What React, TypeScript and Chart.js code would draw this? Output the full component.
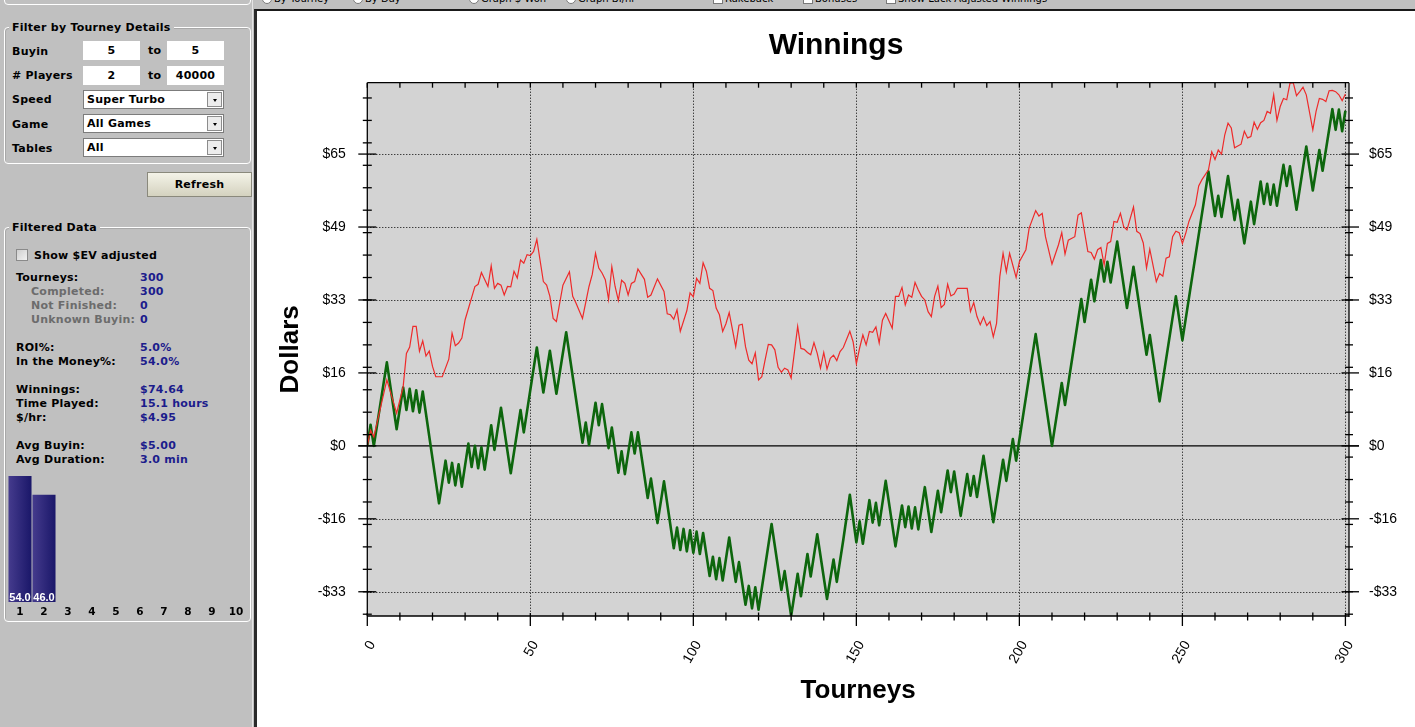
import React, { useEffect, useRef } from "react";
import { Chart, registerables } from "chart.js";

Chart.register(...registerables);

const SANS = "'Liberation Sans', Arial, Helvetica, sans-serif";
const UI = "'DejaVu Sans', Verdana, sans-serif";

// ---- main chart data: [tourney, dollars] at the vertices ----
const actualWinnings: [number, number][] = [
  [0, 0], [1, 4.7], [2, 0], [6, 18.6], [9, 3.7], [11, 13.0], [12, 8.0], [13, 12.7], [14, 7.7], [15, 12.4],
  [16, 7.4], [17, 12.1], [22, -12.8], [24, -3.3], [25, -8.2], [26, -3.8], [27, -8.8], [28, -4.1], [29, -9.1], [31, 0.5],
  [32, -4.7], [33, 0.0], [34, -5.0], [35, -0.3], [36, -5.3], [38, 4.6], [39, -0.9], [41, 8.5], [44, -6.1], [47, 8.0],
  [48, 3.0], [52, 21.9], [54, 11.9], [56, 21.2], [58, 11.6], [61, 25.3], [66, 0.7], [67, 5.2], [68, 0.2], [70, 9.6],
  [71, 4.6], [72, 9.3], [74, -0.5], [75, 4.1], [77, -6.0], [78, -1.2], [79, -6.3], [81, 3.0], [82, -1.7], [83, 3.0],
  [86, -11.6], [87, -7.3], [89, -17.2], [91, -7.9], [94, -22.8], [95, -18.2], [96, -23.2], [97, -18.5], [98, -23.5], [99, -18.8],
  [100, -23.8], [101, -19.1], [102, -24.1], [103, -19.4], [105, -29.0], [106, -24.7], [107, -29.7], [108, -25.0], [109, -30.0], [111, -20.4],
  [113, -30.3], [114, -25.9], [116, -35.4], [117, -31.2], [118, -36.2], [119, -31.5], [120, -36.5], [124, -17.4], [127, -32.1], [128, -27.9],
  [130, -37.9], [132, -28.5], [133, -33.5], [135, -24.1], [136, -29.1], [138, -19.7], [141, -34.1], [143, -25.3], [144, -30.3], [146, -20.9],
  [148, -10.9], [150, -21.5], [151, -16.8], [152, -21.8], [154, -12.1], [155, -17.1], [156, -12.7], [157, -17.7], [159, -7.8], [162, -22.4],
  [164, -13.3], [165, -18.1], [166, -13.5], [167, -18.4], [168, -13.7], [169, -18.6], [171, -9.2], [173, -19.2], [175, -10.0], [176, -14.8],
  [178, -5.5], [179, -10.3], [180, -5.7], [182, -15.6], [184, -6.3], [185, -11.1], [186, -6.7], [187, -11.4], [189, -2.2], [192, -17.0],
  [195, -3.1], [196, -7.8], [198, 1.5], [199, -3.3], [205, 24.9], [210, 0], [213, 14.0], [214, 9.1], [219, 32.7], [220, 27.6],
  [222, 37.0], [223, 32.2], [225, 41.4], [226, 36.6], [227, 41.0], [228, 36.4], [230, 45.5], [233, 30.7], [235, 39.9], [239, 20.3],
  [240, 24.7], [243, 9.9], [248, 33.3], [250, 23.5], [258, 61.1], [260, 51.2], [261, 55.7], [262, 51.0], [264, 60.1], [266, 50.3],
  [267, 54.8], [269, 45.1], [271, 54.4], [272, 49.4], [274, 58.9], [275, 53.9], [276, 58.4], [277, 53.7], [278, 58.2], [279, 53.5],
  [281, 62.6], [282, 57.9], [283, 62.3], [285, 52.6], [288, 66.7], [290, 56.9], [292, 65.9], [293, 61.3], [296, 75.0], [297, 70.4],
  [298, 74.9], [299, 70.1], [300, 74.64],
];

const luckAdjusted: [number, number][] = [
  [0, 0], [1, 3.5], [2, 2.0], [6, 14.7], [9, 7.3], [11, 13.2], [12, 20.6], [13, 22.0], [14, 26.6], [15, 26.6],
  [16, 21.1], [17, 23.4], [18, 20.0], [19, 21.1], [20, 17.7], [21, 15.4], [23, 15.4], [25, 19.3], [26, 25.1], [27, 22.3],
  [28, 22.9], [29, 24.0], [30, 28.1], [33, 35.5], [34, 36.0], [35, 38.6], [37, 35.5], [38, 40.1], [39, 35.1], [40, 36.2],
  [41, 35.8], [42, 33.6], [43, 35.5], [44, 35.4], [45, 38.9], [46, 37.4], [47, 41.4], [48, 40.7], [49, 42.6], [50, 42.4],
  [51, 43.3], [52, 46.0], [54, 36.6], [55, 35.8], [56, 33.3], [57, 28.4], [58, 27.7], [60, 35.8], [62, 38.8], [63, 33.3],
  [64, 31.8], [66, 28.4], [68, 35.5], [69, 38.2], [70, 42.9], [71, 39.6], [72, 38.5], [73, 37.0], [74, 32.6], [75, 39.9],
  [76, 35.5], [77, 32.4], [78, 36.9], [79, 36.2], [80, 33.6], [81, 36.2], [82, 36.6], [83, 39.4], [85, 37.1], [86, 33.1],
  [87, 33.6], [89, 37.2], [91, 34.4], [92, 29.4], [93, 29.2], [94, 28.2], [95, 30.3], [96, 25.5], [98, 30.1], [99, 34.1],
  [100, 33.2], [101, 37.3], [102, 36.2], [103, 40.8], [104, 38.9], [105, 35.1], [106, 34.6], [107, 30.7], [108, 29.2], [109, 25.5],
  [110, 27.2], [111, 29.7], [113, 22.1], [114, 26.9], [115, 27.1], [116, 22.1], [117, 19.1], [118, 18.3], [119, 20.7], [120, 14.7],
  [121, 15.4], [122, 19.1], [123, 22.6], [124, 22.5], [125, 21.4], [126, 17.5], [127, 16.4], [128, 17.3], [129, 16.9], [130, 15.1],
  [132, 26.6], [133, 21.7], [134, 21.5], [135, 20.8], [136, 20.3], [137, 23.0], [138, 20.6], [139, 17.3], [140, 20.8], [141, 17.1],
  [142, 19.5], [143, 20.2], [144, 19.0], [145, 21.0], [146, 21.9], [148, 25.5], [149, 23.2], [150, 18.3], [151, 21.8], [152, 24.7],
  [153, 22.5], [154, 25.5], [155, 25.3], [156, 26.5], [157, 22.9], [158, 28.0], [159, 29.5], [161, 26.2], [162, 33.3], [163, 33.3],
  [164, 35.3], [165, 31.4], [166, 33.6], [167, 33.1], [168, 36.4], [169, 34.7], [170, 33.3], [171, 32.5], [172, 29.9], [173, 28.8],
  [174, 33.3], [175, 35.6], [176, 30.8], [177, 31.5], [178, 36.0], [179, 33.4], [180, 33.8], [181, 35.1], [184, 35.1], [185, 29.9],
  [186, 31.9], [187, 28.8], [188, 27.0], [189, 28.7], [190, 26.8], [191, 27.7], [192, 24.3], [193, 27.3], [194, 37.7], [195, 42.9],
  [196, 38.8], [197, 42.9], [199, 37.5], [200, 41.0], [202, 43.7], [203, 48.5], [205, 52.4], [206, 51.2], [207, 51.8], [208, 46.6],
  [210, 40.5], [212, 44.8], [213, 47.5], [214, 42.7], [215, 45.8], [217, 46.6], [218, 51.4], [219, 51.9], [221, 43.3], [222, 43.1],
  [223, 41.6], [224, 43.7], [225, 44.2], [226, 40.3], [227, 45.1], [228, 45.5], [229, 50.0], [230, 49.8], [231, 51.8], [232, 48.8],
  [233, 48.1], [235, 53.2], [236, 47.8], [237, 47.3], [238, 45.2], [239, 39.6], [240, 43.8], [242, 36.6], [243, 38.4], [244, 37.8],
  [245, 41.8], [246, 42.1], [247, 46.6], [248, 47.8], [249, 47.5], [250, 45.1], [251, 47.3], [252, 50.0], [254, 53.7], [255, 57.9],
  [256, 59.3], [258, 61.5], [259, 65.5], [260, 63.8], [261, 65.9], [262, 65.0], [263, 69.3], [264, 71.9], [265, 70.8], [266, 66.4],
  [268, 67.2], [269, 70.1], [270, 68.6], [271, 68.9], [272, 72.1], [273, 70.5], [274, 72.0], [275, 72.5], [276, 74.5], [277, 74.1],
  [278, 78.2], [279, 72.5], [280, 75.6], [281, 77.4], [282, 77.1], [283, 80.8], [284, 80.9], [285, 78.0], [286, 78.9], [287, 79.9],
  [288, 78.2], [290, 70.4], [291, 74.5], [292, 77.4], [293, 77.2], [294, 76.7], [295, 79.1], [296, 79.2], [297, 78.9], [298, 78.2],
  [299, 76.9], [300, 78.4],
];

const xTickValues = [0, 50, 100, 150, 200, 250, 300];
const xMinorTicks = [10, 20, 30, 40, 60, 70, 80, 90, 110, 120, 130, 140, 160, 170, 180, 190, 210, 220, 230, 240, 260, 270, 280, 290];
const yTickValues = [-32.5, -16.25, 0, 16.25, 32.5, 48.75, 65];
const yTickLabels = ["-$33", "-$16", "$0", "$16", "$33", "$49", "$65"];
const yMinorTicks = [-37.5, -32.5, -27.5, -22.5, -17.5, -12.5, -7.5, -2.5, 2.5, 7.5, 12.5, 17.5, 22.5, 27.5, 32.5, 37.5, 42.5, 47.5, 52.5, 57.5, 62.5, 67.5, 72.5, 77.5];
const X_MIN = 0;
const X_MAX = 301.1;
const Y_MIN = -37.9;
const Y_MAX = 80.9;

// ---- finishing position histogram ----
const placeLabels = ["1", "2", "3", "4", "5", "6", "7", "8", "9", "10"];
const placePercent = [54.0, 46.0, 0, 0, 0, 0, 0, 0, 0, 0];

const framePlugin = {
  id: "frame",
  beforeDraw(chart: any) {
    const { ctx, chartArea: a } = chart;
    ctx.save();
    ctx.fillStyle = "#ffffff";
    ctx.fillRect(0, 0, chart.width, chart.height);
    ctx.fillStyle = "#d3d3d3";
    ctx.fillRect(a.left, a.top, a.right - a.left, a.bottom - a.top);
    ctx.restore();
  },
  beforeDatasetsDraw(chart: any) {
    const { ctx, chartArea: a, scales } = chart;
    const xs = scales.x;
    const ys = scales.y;
    ctx.save();
    ctx.strokeStyle = "#000";
    ctx.lineWidth = 1;
    ctx.setLineDash([1, 2]);
    for (const v of yTickValues) {
      if (v === 0) continue;
      const y = Math.round(ys.getPixelForValue(v)) + 0.5;
      ctx.beginPath();
      ctx.moveTo(a.left, y);
      ctx.lineTo(a.right, y);
      ctx.stroke();
    }
    for (const v of xTickValues) {
      if (v === 0) continue;
      const x = Math.round(xs.getPixelForValue(v)) + 0.5;
      ctx.beginPath();
      ctx.moveTo(x, a.top);
      ctx.lineTo(x, a.bottom);
      ctx.stroke();
    }
    ctx.setLineDash([]);
    const y0 = ys.getPixelForValue(0);
    ctx.lineWidth = 1.4;
    ctx.beginPath();
    ctx.moveTo(a.left - 9, y0);
    ctx.lineTo(a.right + 10, y0);
    ctx.stroke();
    ctx.restore();
  },
  afterDatasetsDraw(chart: any) {
    const { ctx, chartArea: a, scales } = chart;
    const xs = scales.x;
    const ys = scales.y;
    ctx.save();
    ctx.strokeStyle = "#000";
    ctx.lineWidth = 1.3;
    ctx.setLineDash([]);
    const line = (x1: number, y1: number, x2: number, y2: number) => {
      ctx.beginPath();
      ctx.moveTo(x1, y1);
      ctx.lineTo(x2, y2);
      ctx.stroke();
    };
    line(a.left, a.top, a.right, a.top);
    line(a.left, a.bottom, a.right, a.bottom);
    line(a.left, a.top, a.left, a.bottom);
    line(a.right, a.top, a.right, a.bottom + 1);
    for (const v of yMinorTicks) {
      const y = ys.getPixelForValue(v);
      line(a.left - 4.5, y, a.left + 4.5, y);
      line(a.right - 4, y, a.right + 4, y);
    }
    for (const v of yTickValues) {
      const y = ys.getPixelForValue(v);
      line(a.left - 9, y, a.left + 9, y);
      line(a.right - 7.5, y, a.right + 10, y);
    }
    for (const v of xMinorTicks) {
      const x = xs.getPixelForValue(v);
      line(x, a.bottom - 3.5, x, a.bottom + 4.5);
      line(x, a.top, x, a.top + 5);
    }
    for (const v of xTickValues) {
      const x = xs.getPixelForValue(v);
      line(x, a.bottom - 3, x, a.bottom + 10);
      line(x, a.top, x, a.top + 5);
    }
    ctx.restore();
  },
};

function WinningsChart() {
  const ref = useRef<HTMLCanvasElement>(null);
  useEffect(() => {
    const tickFont = { size: 14, family: SANS };
    const titleFont = { size: 26, weight: "bold" as const, family: SANS };
    const yTicks = (s: any) => {
      s.ticks = yTickValues.map((v) => ({ value: v }));
    };
    const chart = new Chart(ref.current as HTMLCanvasElement, {
      type: "line",
      data: {
        datasets: [
          {
            label: "Luck Adjusted Winnings",
            data: luckAdjusted.map(([x, y]) => ({ x, y })),
            borderColor: "#ee2a2a",
            borderWidth: 1.2,
            pointRadius: 0,
            tension: 0,
            xAxisID: "x",
            yAxisID: "y",
          },
          {
            label: "Winnings",
            data: actualWinnings.map(([x, y]) => ({ x, y })),
            borderColor: "#0d660d",
            borderWidth: 2.6,
            borderJoinStyle: "round",
            pointRadius: 0,
            tension: 0,
            xAxisID: "x",
            yAxisID: "y",
          },
        ],
      } as any,
      options: {
        responsive: false,
        animation: false,
        events: [],
        layout: { padding: 0 },
        plugins: {
          legend: { display: false },
          tooltip: { enabled: false },
          title: {
            display: true,
            text: "Winnings",
            color: "#000",
            font: { size: 30, weight: "bold", family: SANS },
            padding: { top: 17, bottom: 18.7 },
          },
        },
        scales: {
          x: {
            type: "linear",
            position: "bottom",
            min: X_MIN,
            max: X_MAX,
            grid: { display: false, drawTicks: false },
            border: { display: false },
            afterBuildTicks: (s: any) => {
              s.ticks = xTickValues.map((v) => ({ value: v }));
            },
            ticks: {
              autoSkip: false,
              minRotation: 60,
              maxRotation: 60,
              padding: 22,
              labelOffset: 5,
              color: "#000",
              font: tickFont,
              callback: (v: any) => String(v),
            },
            title: { display: true, text: "Tourneys", color: "#000", font: titleFont, padding: { top: 0, bottom: 21 } },
            afterFit: (s: any) => {
              s.height = 111;
            },
          },
          y: {
            type: "linear",
            position: "left",
            min: Y_MIN,
            max: Y_MAX,
            grid: { display: false, drawTicks: false },
            border: { display: false },
            afterBuildTicks: yTicks,
            ticks: { padding: 21.5, color: "#000", font: tickFont, callback: (_v: any, i: number) => yTickLabels[i] },
            title: { display: true, text: "Dollars", color: "#000", font: titleFont, padding: { top: 18.4, bottom: 0 } },
            afterFit: (s: any) => {
              s.width = 110.3;
            },
          },
          y2: {
            type: "linear",
            position: "right",
            min: Y_MIN,
            max: Y_MAX,
            grid: { display: false, drawTicks: false },
            border: { display: false },
            afterBuildTicks: yTicks,
            ticks: { padding: 20, color: "#000", font: tickFont, callback: (_v: any, i: number) => yTickLabels[i] },
            afterFit: (s: any) => {
              s.width = 66;
            },
          },
        },
      } as any,
      plugins: [framePlugin],
    });
    return () => chart.destroy();
  }, []);
  return (
    <canvas
      ref={ref}
      width={1158}
      height={716}
      style={{ position: "absolute", left: 257, top: 11, width: 1158, height: 716, display: "block" }}
    />
  );
}

const barValuePlugin = {
  id: "barValues",
  afterDatasetsDraw(chart: any) {
    const { ctx, chartArea } = chart;
    const meta = chart.getDatasetMeta(0);
    ctx.save();
    ctx.font = `bold 11px ${SANS}`;
    ctx.fillStyle = "#ffffff";
    ctx.textAlign = "center";
    ctx.textBaseline = "alphabetic";
    meta.data.forEach((bar: any, i: number) => {
      if (placePercent[i] > 0) ctx.fillText(placePercent[i].toFixed(1), bar.x, chartArea.bottom - 1);
    });
    ctx.restore();
  },
};

function PlaceChart() {
  const ref = useRef<HTMLCanvasElement>(null);
  useEffect(() => {
    const chart = new Chart(ref.current as HTMLCanvasElement, {
      type: "bar",
      data: {
        labels: placeLabels,
        datasets: [
          {
            data: placePercent,
            borderWidth: 0,
            barPercentage: 1,
            categoryPercentage: 0.96,
            backgroundColor: (c: any) => {
              const ch = c.chart;
              const xs = ch.scales && ch.scales.x;
              const cx = xs && c.dataIndex !== undefined ? xs.getPixelForValue(c.dataIndex) : NaN;
              if (!Number.isFinite(cx)) return "#2a2478";
              const g = ch.ctx.createLinearGradient(cx - 12, 0, cx + 12, 0);
              g.addColorStop(0, "#463c8e");
              g.addColorStop(1, "#191668");
              return g;
            },
          },
        ],
      } as any,
      options: {
        responsive: false,
        animation: false,
        events: [],
        layout: { padding: 0 },
        plugins: { legend: { display: false }, tooltip: { enabled: false } },
        scales: {
          x: {
            grid: { display: false, drawTicks: false },
            border: { display: false },
            ticks: { padding: 4, color: "#000", font: { size: 10.5, weight: "bold", family: UI } },
            afterFit: (s: any) => {
              s.height = 18;
            },
          },
          y: { display: false, min: 0, max: 56.57 },
        },
      } as any,
      plugins: [barValuePlugin],
    });
    return () => chart.destroy();
  }, []);
  return (
    <canvas
      ref={ref}
      width={240}
      height={150}
      style={{ position: "absolute", left: 8, top: 470, width: 240, height: 150, display: "block" }}
    />
  );
}

const abs = (s: React.CSSProperties): React.CSSProperties => ({ position: "absolute", whiteSpace: "nowrap", ...s });
const bold = `bold 11px ${UI}`;
const LS = "0.25px";

function Label({ x, y, children, color = "#000" }: { x: number; y: number; children: React.ReactNode; color?: string }) {
  return <div style={abs({ left: x, top: y - 6, font: bold, letterSpacing: LS, lineHeight: "14px", color })}>{children}</div>;
}

function Input({ x, y, w, children }: { x: number; y: number; w: number; children: React.ReactNode }) {
  return (
    <div
      style={abs({
        left: x,
        top: y,
        width: w,
        height: 19,
        background: "#fff",
        font: bold,
        letterSpacing: LS,
        lineHeight: "20px",
        textAlign: "center",
      })}
    >
      {children}
    </div>
  );
}

function Select({ y, children }: { y: number; children: React.ReactNode }) {
  return (
    <div
      style={abs({
        left: 83,
        top: y,
        width: 141,
        height: 19,
        background: "#fff",
        border: "1px solid #7c7c7c",
        boxSizing: "border-box",
        font: bold,
        letterSpacing: LS,
        lineHeight: "17px",
        paddingLeft: 3,
      })}
    >
      {children}
      <div
        style={abs({
          right: 1,
          top: 1,
          width: 15,
          height: 15,
          background: "#ececec",
          border: "1px solid #8c8c8c",
          boxSizing: "border-box",
        })}
      >
        <div
          style={abs({
            left: 4.5,
            top: 5.5,
            width: 0,
            height: 0,
            borderLeft: "2.5px solid transparent",
            borderRight: "2.5px solid transparent",
            borderTop: "3px solid #000",
          })}
        />
      </div>
    </div>
  );
}

const statRows: { label: string; value: string; y: number; sub?: boolean }[] = [
  { label: "Tourneys:", value: "300", y: 277 },
  { label: "Completed:", value: "300", y: 291, sub: true },
  { label: "Not Finished:", value: "0", y: 305, sub: true },
  { label: "Unknown Buyin:", value: "0", y: 319, sub: true },
  { label: "ROI%:", value: "5.0%", y: 347 },
  { label: "In the Money%:", value: "54.0%", y: 361 },
  { label: "Winnings:", value: "$74.64", y: 389 },
  { label: "Time Played:", value: "15.1 hours", y: 403 },
  { label: "$/hr:", value: "$4.95", y: 417 },
  { label: "Avg Buyin:", value: "$5.00", y: 445 },
  { label: "Avg Duration:", value: "3.0 min", y: 459 },
];

const topItems: { kind: "radio" | "check"; checked?: boolean; x: number; text: string }[] = [
  { kind: "radio", x: 262, text: "By Tourney" },
  { kind: "radio", x: 353, text: "By Day" },
  { kind: "radio", x: 469, text: "Graph $ Won" },
  { kind: "radio", x: 566, text: "Graph BI/hr" },
  { kind: "check", checked: true, x: 713, text: "Rakeback" },
  { kind: "check", checked: false, x: 803, text: "Bonuses" },
  { kind: "check", checked: true, x: 886, text: "Show Luck Adjusted Winnings" },
];

function GroupBox({ top, height, title }: { top: number; height: number; title: string }) {
  return (
    <>
      <div
        style={abs({
          left: 4,
          top,
          width: 247,
          height,
          border: "1px solid #ffffff",
          borderRadius: 4,
          boxSizing: "border-box",
          boxShadow: "inset 1px 1px 0 #a8a8a8",
        })}
      />
      <div
        style={abs({
          left: 9,
          top: top - 6,
          padding: "0 3px",
          background: "#c0c0c0",
          font: bold,
          letterSpacing: LS,
          lineHeight: "14px",
        })}
      >
        {title}
      </div>
    </>
  );
}

export default function App() {
  return (
    <div style={{ position: "fixed", left: 0, top: 0, width: 1415, height: 727, background: "#c0c0c0", overflow: "hidden" }}>
      {/* top strip (cut off) */}
      <div style={abs({ left: 256, top: 0, width: 1159, height: 10, overflow: "hidden" })}>
        {topItems.map((it) => (
          <React.Fragment key={it.text}>
            <div
              style={abs({
                left: it.x - 256,
                top: -6,
                width: 10,
                height: 10,
                background: "#fff",
                border: "1px solid #7a7a7a",
                borderRadius: it.kind === "radio" ? "50%" : 0,
                boxSizing: "border-box",
              })}
            />
            <div style={abs({ left: it.x - 256 + 12, top: -8, font: `10px ${UI}`, lineHeight: "13px", color: "#000" })}>{it.text}</div>
          </React.Fragment>
        ))}
      </div>

      {/* left panel */}
      <div style={abs({ left: 4, top: -8, width: 247, height: 13, border: "1px solid #fff", borderRadius: 4, boxSizing: "border-box" })} />
      <GroupBox top={27} height={137} title="Filter by Tourney Details" />
      <Label x={12} y={51}>Buyin</Label>
      <Input x={83} y={41} w={57}>5</Input>
      <Label x={148} y={50}>to</Label>
      <Input x={167} y={41} w={57}>5</Input>
      <Label x={12} y={75}>
        # Players
      </Label>
      <Input x={83} y={66} w={57}>2</Input>
      <Label x={148} y={75}>to</Label>
      <Input x={167} y={66} w={57}>40000</Input>
      <Label x={12} y={99}>Speed</Label>
      <Select y={90}>Super Turbo</Select>
      <Label x={12} y={124}>Game</Label>
      <Select y={114}>All Games</Select>
      <Label x={12} y={148}>Tables</Label>
      <Select y={138}>All</Select>

      <div
        style={abs({
          left: 147,
          top: 172,
          width: 105,
          height: 25,
          background: "linear-gradient(#f4f3e8, #d4d2bf)",
          border: "1px solid #8a897c",
          boxSizing: "border-box",
          font: bold,
          letterSpacing: LS,
          lineHeight: "23px",
          textAlign: "center",
        })}
      >
        Refresh
      </div>

      <GroupBox top={227} height={395} title="Filtered Data" />
      <div
        style={abs({
          left: 16,
          top: 249,
          width: 12,
          height: 12,
          background: "linear-gradient(135deg, #cfcfcf, #f2f2f2)",
          border: "1px solid #8a8a8a",
          boxSizing: "border-box",
        })}
      />
      <Label x={34} y={255}>Show $EV adjusted</Label>
      {statRows.map((r) => (
        <React.Fragment key={r.label}>
          <Label x={r.sub ? 31 : 16} y={r.y} color={r.sub ? "#6c6c6c" : "#000"}>
            {r.label}
          </Label>
          <Label x={140} y={r.y} color="#1c1c8c">
            {r.value}
          </Label>
        </React.Fragment>
      ))}
      <PlaceChart />

      {/* chart panel */}
      <div
        style={abs({
          left: 254,
          top: 9,
          width: 1161,
          height: 718,
          background: "#fff",
          borderLeft: "3px solid #2a2a2a",
          borderTop: "2px solid #1a1a1a",
          boxSizing: "border-box",
        })}
      />
      <div style={abs({ left: 252, top: 0, width: 1, height: 727, background: "#e4e4e4" })} />
      <WinningsChart />
    </div>
  );
}
